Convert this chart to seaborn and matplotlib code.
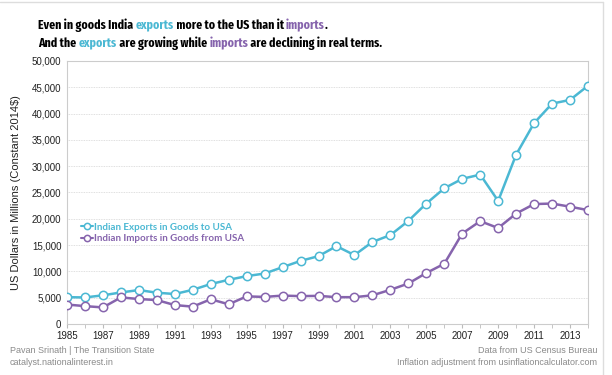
import pandas as pd
import numpy as np
import seaborn as sns
import matplotlib.pyplot as plt
from matplotlib.ticker import FuncFormatter, MultipleLocator

years = list(range(1985, 2015))
exports = [5100, 5050, 5450, 6000, 6450, 5950, 5700, 6500, 7600, 8400,
           9100, 9600, 10800, 12000, 12900, 14800, 13100, 15600, 16900, 19600,
           22900, 25800, 27600, 28400, 23400, 32200, 38200, 41900, 42600, 45300]
imports = [3700, 3400, 3150, 5050, 4750, 4550, 3600, 3300, 4700, 3750,
           5250, 5150, 5400, 5300, 5350, 5100, 5100, 5450, 6500, 7700,
           9700, 11450, 17200, 19550, 18250, 21000, 22800, 22900, 22300, 21650]
exp_label = "Indian Exports in Goods to USA"
imp_label = "Indian Imports in Goods from USA"

cyan = "#4bb8d3"
purple = "#8664ad"

sns.set_style("white")
plt.rcParams['font.family'] = ['Liberation Sans', 'DejaVu Sans']

fig = plt.figure(figsize=(6.12, 3.75), dpi=100)
ax = fig.add_axes([67/612, 1-324/375, 521/612, 263/375])

df_e = pd.DataFrame({'year': years, 'value': exports})
df_i = pd.DataFrame({'year': years, 'value': imports})
sns.lineplot(data=df_e, x='year', y='value', ax=ax, color=cyan, lw=1.8, marker='o',
             markersize=6, markerfacecolor='white', markeredgecolor=cyan,
             markeredgewidth=1.1, label=exp_label, zorder=3)
sns.lineplot(data=df_i, x='year', y='value', ax=ax, color=purple, lw=1.8, marker='o',
             markersize=6, markerfacecolor='white', markeredgecolor=purple,
             markeredgewidth=1.1, label=imp_label, zorder=3)

ax.set_xlim(1985, 2014)
ax.set_ylim(0, 50000)
ax.yaxis.set_major_locator(MultipleLocator(5000))
ax.yaxis.set_major_formatter(FuncFormatter(lambda v, p: f"{int(v):,}"))
ax.set_xticks(list(range(1985, 2014, 2)))
ax.xaxis.set_minor_locator(MultipleLocator(1))
ax.tick_params(axis='x', which='both', direction='out', length=3, color='#bbbbbb',
               labelsize=7, labelcolor='#222222', pad=2, bottom=True)
ax.tick_params(axis='y', length=0, labelsize=7, labelcolor='#222222', pad=4)
ax.grid(axis='y', linestyle=(0, (1, 1)), color='#d5d5d5', lw=0.6)
for s in ax.spines.values():
    s.set_color('#cccccc')
    s.set_linewidth(0.8)
ax.set_xlabel('')
ax.set_ylabel('US Dollars in Millions (Constant 2014$)', fontsize=8, color='#222222', labelpad=8)

leg = ax.legend(loc='center left', bbox_to_anchor=(14/521, 91/263), frameon=False,
                borderpad=0, borderaxespad=0, markerscale=0.75,
                handlelength=1.2, handletextpad=0.15, labelspacing=0.3,
                prop={'size': 7, 'weight': 'bold', 'family': ['Lato', 'DejaVu Sans']})
for t, c in zip(leg.get_texts(), [cyan, purple]):
    t.set_color(c)
for h in leg.legend_handles:
    h.set_linewidth(1.5)

# multi-coloured title, pieces placed one after the other
title_lines = [
    [("Even in goods India ", 'black'), ("exports", cyan), (" more to the US than it ", 'black'),
     ("imports", purple), (".", 'black')],
    [("And the ", 'black'), ("exports", cyan), (" are growing while ", 'black'),
     ("imports", purple), (" are declining in real terms.", 'black')],
]
fig.canvas.draw()
r = fig.canvas.get_renderer()
tfont = ['Fira Sans Extra Condensed', 'Roboto Condensed', 'DejaVu Sans']
# size so that the 2nd line spans about 343 px as in the original
probe = fig.text(0, 0, "".join(p[0] for p in title_lines[1]), fontsize=10,
                 fontweight='bold', family=tfont)
tsize = 10 * 343 / probe.get_window_extent(renderer=r).width
probe.remove()
for i, parts in enumerate(title_lines):
    y = 1 - (29 + i * 18) / 375
    prefix = ""
    for txt, col in parts:
        if prefix:
            pr = fig.text(0, 0, prefix, fontsize=tsize, fontweight='bold', family=tfont)
            dx = pr.get_window_extent(renderer=r).width
            pr.remove()
        else:
            dx = 0
        fig.text((38 + dx) / 612, y, txt, color=col, fontsize=tsize, fontweight='bold',
                 family=tfont, va='baseline')
        prefix += txt

grey = '#8a8a8a'
fig.text(10/612, 1-353/375, "Pavan Srinath | The Transition State", fontsize=6.5, color=grey)
fig.text(10/612, 1-365/375, "catalyst.nationalinterest.in", fontsize=6.5, color=grey)
fig.text(597/612, 1-353/375, "Data from US Census Bureau", fontsize=6.5, color=grey, ha='right')
fig.text(597/612, 1-365/375, "Inflation adjustment from usinflationcalculator.com", fontsize=6.5,
         color=grey, ha='right')

# outer frame lines
fig.add_artist(plt.Line2D([0, 603/612], [1-2/375, 1-2/375], color='#dddddd', lw=1))
fig.add_artist(plt.Line2D([603/612, 603/612], [0, 1-2/375], color='#dddddd', lw=1))

fig.savefig('out.png', dpi=100)
